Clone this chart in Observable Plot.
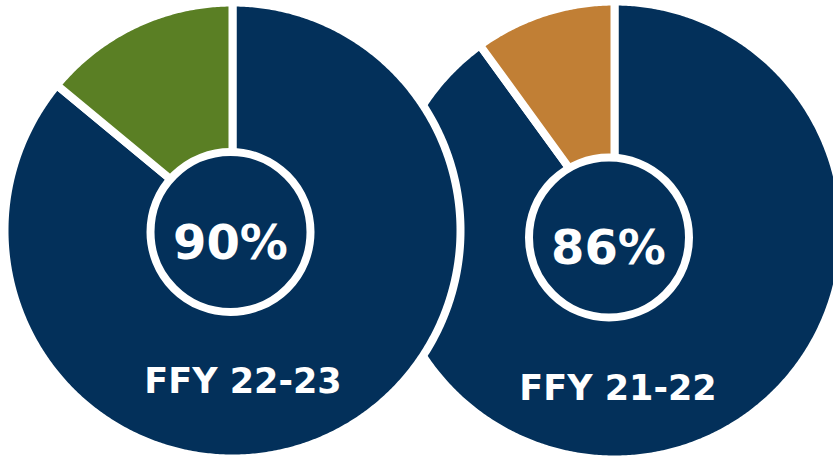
<!DOCTYPE html>
<html>
<head>
<meta charset="utf-8">
<script src="https://cdn.jsdelivr.net/npm/d3@7"></script>
<script src="https://cdn.jsdelivr.net/npm/@observablehq/plot@0.6"></script>
<style>
  html, body { margin: 0; padding: 0; background: #ffffff; }
  #chart svg { display: block; }
</style>
</head>
<body>
<div id="chart"></div>
<script>
// ---- data ----
const years = ["FFY 22-23", "FFY 21-22"];
const centerLabels = ["90%", "86%"];
const mainShare = [86, 90];     // navy wedge, percent of circle
const accentShare = [14, 10];   // coloured wedge, percent of circle

// ---- styles / layout ----
const W = 833, H = 457;
const navy = "#03305a";
const accentColors = ["#5a7f24", "#c17f35"];
const layout = [
  {cx: 232, cy: 230, R: 228, ix: 230, iy: 231.5, lx: 230, ly: 258, yx: 242.5, yy: 392},
  {cx: 614, cy: 230, R: 229, ix: 608.5, iy: 237, lx: 608, ly: 263, yx: 617.5, yy: 399}
];
const bigSize = 48, smallSize = 35;

// build wedge outlines from the shares
function wedge(pie, key, a0, a1, color) {
  const L = layout[pie];
  const pts = [{key, color, x: L.cx, y: L.cy}];
  const n = Math.max(2, Math.ceil((a1 - a0) / (Math.PI / 360)));
  for (let k = 0; k <= n; ++k) {
    const a = a0 + (a1 - a0) * k / n;
    pts.push({key, color, x: L.cx + L.R * Math.sin(a), y: L.cy - L.R * Math.cos(a)});
  }
  pts.push({key, color, x: L.cx, y: L.cy});
  return pts;
}

const slices = [];
// draw right pie first so the left one sits on top
for (const i of [1, 0]) {
  const total = mainShare[i] + accentShare[i];
  const split = 2 * Math.PI * mainShare[i] / total;
  slices.push(...wedge(i, `main${i}`, 0, split, navy));
  slices.push(...wedge(i, `acc${i}`, split, 2 * Math.PI, accentColors[i]));
}

const centers = [1, 0].map(i => ({
  x: layout[i].ix, y: layout[i].iy,
  pct: centerLabels[i], pctX: layout[i].lx, pctY: layout[i].ly - 0.32 * bigSize,
  year: years[i], yearX: layout[i].yx, yearY: layout[i].yy - 0.32 * smallSize
}));

const marks = [];
for (const i of [1, 0]) {
  marks.push(Plot.line(slices.filter(d => d.key.endsWith(String(i))), {
    x: "x", y: "y", z: "key", fill: "color", stroke: "#ffffff",
    strokeWidth: 8, strokeLinejoin: "round", curve: "linear"
  }));
  const c = centers.filter(d => d.year === years[i]);
  marks.push(Plot.dot(c, {x: "x", y: "y", r: 80, fill: navy, stroke: "#ffffff", strokeWidth: 8}));
  marks.push(Plot.text(c, {x: "pctX", y: "pctY", text: "pct", fill: "#ffffff",
    fontSize: bigSize, fontWeight: "bold", fontFamily: "DejaVu Sans"}));
  marks.push(Plot.text(c, {x: "yearX", y: "yearY", text: "year", fill: "#ffffff",
    fontSize: smallSize, fontWeight: "bold", fontFamily: "DejaVu Sans"}));
}

const chart = Plot.plot({
  width: W, height: H,
  margin: 0,
  x: {domain: [0, W], axis: null},
  y: {domain: [H, 0], axis: null},
  color: {type: "identity"},
  style: {background: "#ffffff", overflow: "hidden"},
  marks
});
document.getElementById("chart").append(chart);
</script>
</body>
</html>
